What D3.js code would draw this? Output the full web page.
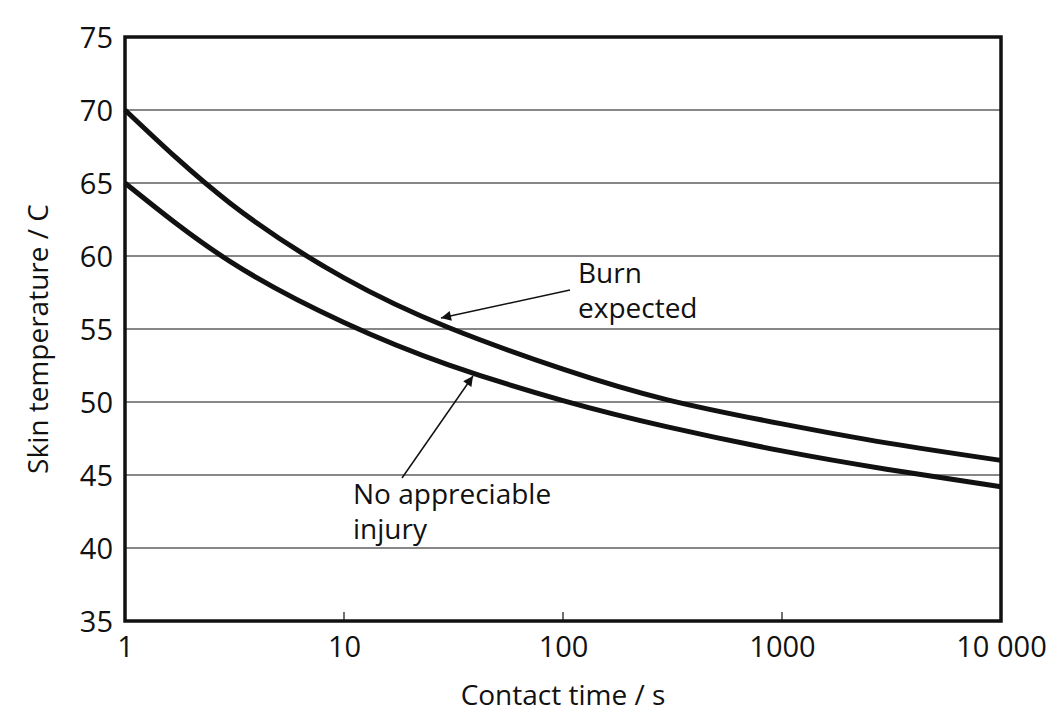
<!DOCTYPE html>
<html><head><meta charset="utf-8">
<script src="https://cdn.jsdelivr.net/npm/d3@7"></script>
<style>
body{margin:0;background:#fff;}
text{font-family:"Open Sans","Noto Sans",sans-serif;fill:#111;}
</style></head>
<body><svg id="c" width="1063" height="722"></svg>
<script>
const times = [1, 3, 10, 30, 100, 300, 1000, 3000, 10000];
const burnExpected = [70, 63.65, 58.5, 55.1, 52.25, 50.15, 48.5, 47.2, 46.0];
const noInjury = [65, 59.65, 55.45, 52.55, 50.1, 48.3, 46.65, 45.4, 44.2];
const xTicks = [1, 10, 100, 1000, 10000];
const xTickLabels = ["1", "10", "100", "1000", "10 000"];
const yTicks = [35, 40, 45, 50, 55, 60, 65, 70, 75];

const svg = d3.select("#c");
const L = 125, R = 1001, T = 37, B = 621;
const x = d3.scaleLog().domain([1, 10000]).range([L, R]);
const y = d3.scaleLinear().domain([35, 75]).range([B, T]);

// gridlines
svg.append("g").selectAll("line").data(yTicks.filter(v => v > 35 && v < 75)).join("line")
  .attr("x1", L).attr("x2", R).attr("y1", d => y(d)).attr("y2", d => y(d))
  .attr("stroke", "#111").attr("stroke-width", 1.2);

// y axis
const yAxis = svg.append("g").attr("transform", `translate(${L},0)`)
  .call(d3.axisLeft(y).tickValues(yTicks).tickSize(0).tickPadding(12));
yAxis.select(".domain").remove();
yAxis.selectAll("text").style("font-size", "29px").attr("dy", "0.36em");

// x axis
const xAxis = svg.append("g").attr("transform", `translate(0,${B})`)
  .call(d3.axisBottom(x).tickValues(xTicks).tickFormat((d, i) => xTickLabels[i]).tickSize(0).tickPadding(15));
xAxis.select(".domain").remove();
xAxis.selectAll("text").style("font-size", "29px").attr("dy", "0.71em");
// inner tick marks
svg.append("g").selectAll("line").data(xTicks.slice(1, -1)).join("line")
  .attr("x1", d => x(d)).attr("x2", d => x(d)).attr("y1", B).attr("y2", B - 9)
  .attr("stroke", "#111").attr("stroke-width", 1.2);

// frame
svg.append("rect").attr("x", L).attr("y", T).attr("width", R - L).attr("height", B - T)
  .attr("fill", "none").attr("stroke", "#111").attr("stroke-width", 3.5);

// curves
const line = d3.line().x(d => x(d[0])).y(d => y(d[1])).curve(d3.curveNatural);
[burnExpected, noInjury].forEach(s => {
  svg.append("path").datum(times.map((t, i) => [t, s[i]]))
    .attr("d", line).attr("fill", "none").attr("stroke", "#111").attr("stroke-width", 5);
});

// arrows
const defs = svg.append("defs");
defs.append("marker").attr("id", "ah").attr("viewBox", "0 0 10 10").attr("refX", 10).attr("refY", 5)
  .attr("markerWidth", 14).attr("markerHeight", 10).attr("markerUnits", "userSpaceOnUse").attr("orient", "auto")
  .append("path").attr("d", "M0,0 L10,5 L0,10 z").attr("fill", "#111");
svg.append("line").attr("x1", 570).attr("y1", 290).attr("x2", 441).attr("y2", 318)
  .attr("stroke", "#111").attr("stroke-width", 1.5).attr("marker-end", "url(#ah)");
svg.append("line").attr("x1", 402).attr("y1", 478).attr("x2", 473).attr("y2", 376)
  .attr("stroke", "#111").attr("stroke-width", 1.5).attr("marker-end", "url(#ah)");

// annotations
const ann = (tx, ty, lines) => {
  const t = svg.append("text").attr("x", tx).attr("y", ty).style("font-size", "28px");
  lines.forEach((l, i) => t.append("tspan").attr("x", tx).attr("dy", i ? 35 : 0).text(l));
};
ann(578, 283, ["Burn", "expected"]);
ann(353, 504, ["No appreciable", "injury"]);

// axis titles
svg.append("text").attr("x", (L + R) / 2).attr("y", 705).attr("text-anchor", "middle")
  .style("font-size", "28px").text("Contact time / s");
svg.append("text").attr("transform", `translate(48,${(T + B) / 2 + 10}) rotate(-90)`)
  .attr("text-anchor", "middle").style("font-size", "28px").text("Skin temperature / C");
</script></body></html>
